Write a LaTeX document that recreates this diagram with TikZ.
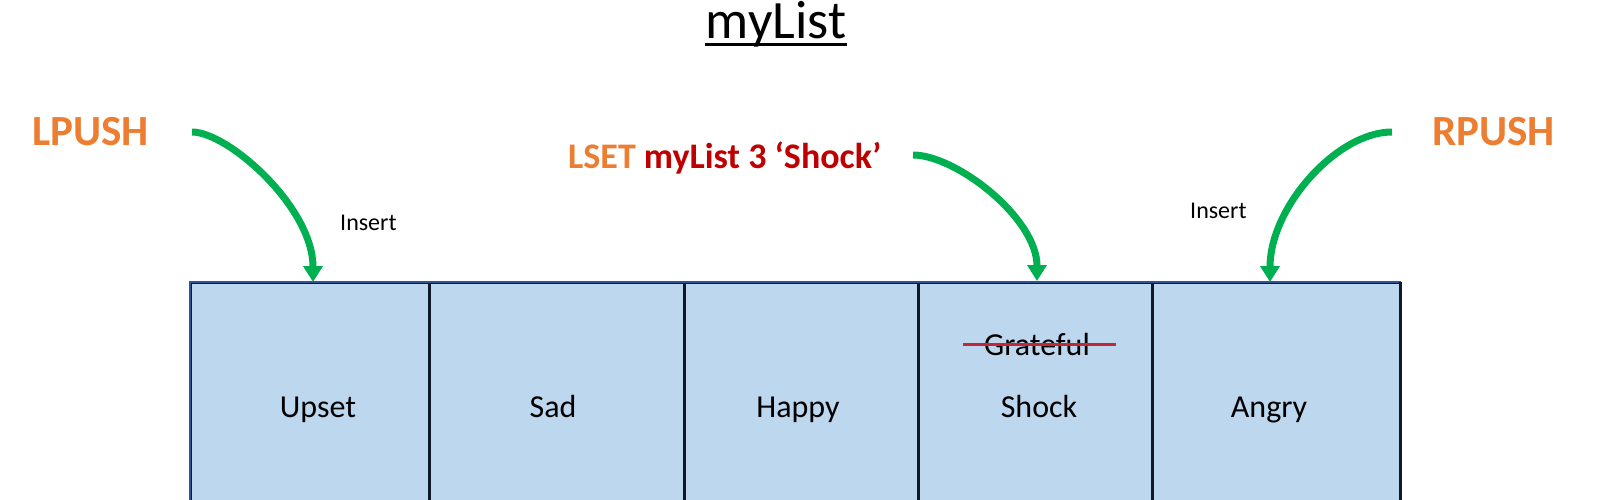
\documentclass[tikz,border=0pt]{standalone}
\usepackage{fontspec}
\setmainfont{Carlito}
\usetikzlibrary{arrows.meta,calc}
\definecolor{cellblue}{HTML}{BDD7EE}
\definecolor{frameblue}{HTML}{2F5597}
\definecolor{divline}{HTML}{111827}
\definecolor{cmdorange}{HTML}{ED7D31}
\definecolor{cmdred}{HTML}{C00000}
\definecolor{arrowgreen}{HTML}{00B050}
\definecolor{strikered}{HTML}{C0283A}
\tikzset{
  cellbox/.style={draw=divline, line width=1.5pt, fill=cellblue, minimum height=250pt, inner sep=0pt, anchor=north west},
  celltext/.style={anchor=base, inner sep=0pt, font=\fontsize{32}{38}\selectfont},
  cmdtext/.style={anchor=base west, inner sep=0pt, font=\fontsize{43}{50}\selectfont\bfseries, text=cmdorange},
  inserttext/.style={anchor=base west, inner sep=0pt, font=\fontsize{24}{28}\selectfont},
  pusharrow/.style={draw=arrowgreen, line width=7pt, -{Triangle[width=19pt,length=16pt]}}
}
\begin{document}
\begin{tikzpicture}[x=1pt,y=-1pt]
\clip (0,0) rectangle (1600,500);
\fill[white] (0,0) rectangle (1600,500);

% title
\node[anchor=base, inner sep=0pt, font=\fontsize{54}{60}\selectfont] (title) at (776,39) {myList};
\draw[line width=3.5pt] ($(title.base west)+(-1,5.5)$) -- ($(title.base east)+(1,5.5)$);

% cells
\node[cellbox, minimum width=238pt] (c1) at (190,282) {};
\node[cellbox, minimum width=253pt] (c2) at (c1.north east) {};
\node[cellbox, minimum width=233pt] (c3) at (c2.north east) {};
\node[cellbox, minimum width=232pt] (c4) at (c3.north east) {};
\node[cellbox, minimum width=247pt] (c5) at (c4.north east) {};
\draw[frameblue, line width=2.5pt] (c1.south west) -- (c1.north west) -- (c5.north east);
\draw[divline, line width=3pt] (c5.north east) -- (c5.south east);

% cell texts
\node[celltext] (t1) at (318,417) {Upset};
\node[celltext] (t2) at (553,417) {Sad};
\node[celltext] (t3) at (798,417) {Happy};
\node[celltext] (t4) at (1039,417) {Shock};
\node[celltext] (t5) at (1269,417) {Angry};
\node[celltext] (old) at (1037,355) {Grateful};
\draw[strikered, line width=3pt] ($(old.west)+(-21,0)$) coordinate (sa) -- ($(old.east)+(26,0)$) coordinate (sb);

% commands
\node[cmdtext] (lpush) at (32,146) {LPUSH};
\node[cmdtext] (rpush) at (1432,146) {RPUSH};
\node[anchor=base west, inner sep=0pt, font=\fontsize{36}{42}\selectfont\bfseries] (lset) at (568,168) {\textcolor{cmdorange}{LSET} \textcolor{cmdred}{myList 3 ‘Shock’}};

\node[inserttext] (ins1) at (340,230) {Insert};
\node[inserttext] (ins2) at (1190,218) {Insert};

% arrows
\coordinate (ls) at (192,132);
\coordinate (le) at (313,282);
\coordinate (ms) at (913,155);
\coordinate (me) at (1037,281);
\coordinate (rs) at (1392,132);
\coordinate (re) at (1270,282);
\draw[pusharrow] (ls) .. controls (228,132) and (313,207) .. (le);
\draw[pusharrow] (ms) .. controls (956,155) and (1037,218) .. (me);
\draw[pusharrow] (rs) .. controls (1337,132) and (1270,207) .. (re);
\end{tikzpicture}
\end{document}
